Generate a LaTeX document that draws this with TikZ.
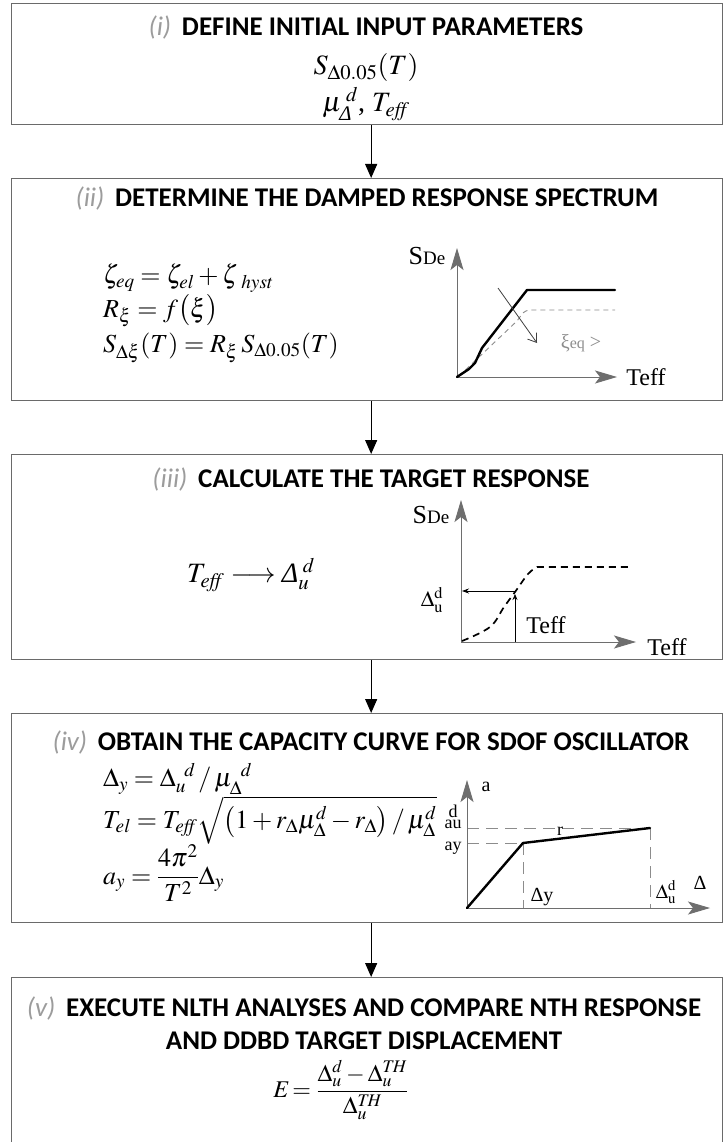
\documentclass[tikz,border=0pt]{standalone}
\usepackage{amsmath}
\usepackage{mathptmx}
\usepackage[no-math]{fontspec}
\setmainfont{Liberation Serif}
\newfontfamily\calfont{Carlito}
\usetikzlibrary{arrows.meta}
\definecolor{numgray}{HTML}{9C9C9C}
\definecolor{boxline}{HTML}{6A6A6A}
\definecolor{axgray}{HTML}{6E6E6E}
\definecolor{dashgray}{HTML}{8C8C8C}
\newcommand\iD{\text{\itshape Δ}}
\newcommand\ttl[2]{{\calfont\color{numgray}\itshape #1}\hspace{0.4em}{\calfont\bfseries #2}}
\newcommand\fs[1]{\fontsize{#1}{#1}\selectfont}
\begin{document}
\begin{tikzpicture}[x=1pt,y=-1pt,
  box/.style={draw=boxline,line width=1.3pt,minimum width=711pt,anchor=north west,inner sep=0pt},
  flow/.style={draw=black,line width=1.1pt,-{Triangle[length=14pt,width=12pt]}},
  ttlnode/.style={font=\fontsize{27}{33}\selectfont,inner sep=0pt,align=center},
  mth/.style={font=\fontsize{28}{34}\selectfont,inner sep=0pt},
  mthl/.style={font=\fontsize{26}{32}\selectfont,inner sep=0pt,anchor=west},
  axis/.style={draw=axgray,line width=0.9pt,-{Stealth[length=22pt,width=13pt,inset=5pt,fill=axgray]}},
  lbl/.style={inner sep=0pt},
  gdash/.style={draw=dashgray,line width=0.9pt,dash pattern=on 12pt off 7pt}
]
\useasboundingbox (0,0) rectangle (725,1142);
\fill[white] (0,0) rectangle (725,1142);

% boxes
\node[box,minimum height=121pt] (b1) at (11,3) {};
\node[box,minimum height=222pt] (b2) at (11,178) {};
\node[box,minimum height=205pt] (b3) at (11,454) {};
\node[box,minimum height=209pt] (b4) at (11,713) {};
\node[box,minimum height=200pt] (b5) at (11,977) {};

% connectors
\draw[flow] ([xshift=4pt]b1.south) -- ([xshift=4pt]b2.north);
\draw[flow] ([xshift=4pt]b2.south) -- ([xshift=4pt]b3.north);
\draw[flow] ([xshift=4pt]b3.south) -- ([xshift=4pt]b4.north);
\draw[flow] ([xshift=4pt]b4.south) -- ([xshift=4pt]b5.north);

% ---- box (i)
\node[ttlnode] (t1) at (366,28) {\ttl{(i)}{DEFINE INITIAL INPUT PARAMETERS}};
\node[mth] (m11) at (366,68) {$S_{\Delta 0.05}(T)$};
\node[mth] (m12) at (366,104) {$\mu_{\iD}^{\;d}$, $T_{\mathit{eff}}$};

% ---- box (ii)
\node[ttlnode] (t2) at (367,198) {\ttl{(ii)}{DETERMINE THE DAMPED RESPONSE SPECTRUM}};
\node[mthl] (m21) at (103,278) {$\zeta_{eq} = \zeta_{el} + \zeta_{\;\,hyst}$};
\node[mthl] (m22) at (103,311) {$R_{\xi} = f\bigl(\xi\bigr)$};
\node[mthl] (m23) at (103,348) {$S_{\Delta\xi}(T) = R_{\xi}\,S_{\Delta 0.05}(T)$};

\coordinate (o2) at (457,377);
\draw[axis] (o2) -- (457,248);
\draw[axis] (o2) -- (617,377);
\draw[gdash,dash pattern=on 5pt off 4pt] (459,376) -- (517,321) [rounded corners=5pt] -- (525,310) -- (615,310);
\draw[line width=2.4pt,line join=round,line cap=round] (457,377) -- (469,369) -- (475,363) -- (482,348) -- (527,290) -- (615,290);
\draw[draw=black!75,line width=0.8pt,-{Straight Barb[length=8pt,width=11pt]}] (498,288) -- (537,343);
\node[lbl,font=\fs{26}] (sde2) at (427,256) {S{\fs{19}De}};
\node[lbl,font=\fs{24}] (teff2) at (646,377) {Teff};
\node[lbl,font=\fs{20},text=dashgray] (xi2) at (581,343) {ξ{\fs{16}eq} >};

% ---- box (iii)
\node[ttlnode] (t3) at (371,479) {\ttl{(iii)}{CALCULATE THE TARGET RESPONSE}};
\node[mth] (m31) at (251,575) {$T_{\mathit{eff}} \longrightarrow \iD_{u}^{\;d}$};

\coordinate (o3) at (461,642);
\draw[axis] (o3) -- (461,500);
\draw[axis] (o3) -- (636,642);
\draw[line width=1.7pt,dash pattern=on 7pt off 5pt] plot[smooth,tension=0.6] coordinates {(462,641) (490,627) (504,607) (515,592) (528,574) (537,567)} -- (631,567);
\draw[line width=0.8pt,-{Stealth[length=6pt,width=5pt]}] (515,642) -- (515,594);
\draw[line width=0.8pt,-{Stealth[length=7pt,width=5pt]}] (515,591) -- (462,591);
\node[lbl,font=\fs{26}] (sde3) at (431,515) {S{\fs{19}De}};
\node[lbl,font=\fs{24}] (teff3) at (667,647) {Teff};
\node[lbl,font=\fs{22}] (du3) at (432,600) {$\mathrm{\Delta}_{\mathrm{u}}^{\mathrm{d}}$};
\node[lbl,font=\fs{24}] (teff3b) at (546,625) {Teff};

% ---- box (iv)
\node[ttlnode] (t4) at (371,742) {\ttl{(iv)}{OBTAIN THE CAPACITY CURVE FOR SDOF OSCILLATOR}};
\node[mthl] (m41) at (103,779) {$\Delta_{y} = \Delta_{u}^{\ \,d} \,/\, \mu_{\Delta}^{\ \,d}$};
\node[mthl] (m42) at (103,820) {$T_{el} = T_{\mathit{eff}}\sqrt{\left(1 + r_{\Delta}\mu_{\Delta}^{d} - r_{\Delta}\right)/\,\mu_{\Delta}^{d}}$};
\node[mthl] (m43) at (103,873) {$a_{y} = \dfrac{4\pi^{2}}{T^{2}}\Delta_{y}$};

\coordinate (o4) at (467,908);
\draw[gdash] (467,843) -- (523,843);
\draw[gdash] (467,828) -- (650,828);
\draw[gdash] (523,843) -- (523,908);
\draw[gdash] (650,828) -- (650,908);
\draw[axis] (o4) -- (467,780);
\draw[axis] (o4) -- (710,908);
\draw[line width=2.4pt,line join=round,line cap=round] (467,908) -- (523,843) -- (650,828);
\node[lbl,font=\fs{20}] (a4) at (486,787) {a};
\node[lbl,font=\fs{18},align=center] (au4) at (453,817) {d\\[-7pt]au};
\node[lbl,font=\fs{18}] (ay4) at (453,848) {ay};
\node[lbl,font=\fs{18}] (r4) at (560,831) {r};
\node[lbl,font=\fs{20}] (dy4) at (542,897) {Δy};
\node[lbl,font=\fs{20}] (du4) at (666,892) {$\mathrm{\Delta}_{\mathrm{u}}^{\mathrm{d}}$};
\node[lbl,font=\fs{20}] (d4) at (700,883) {Δ};

% ---- box (v)
\node[ttlnode] (t5) at (364,1023) {\ttl{(v)}{EXECUTE NLTH ANALYSES AND COMPARE NTH RESPONSE}\\{\calfont\bfseries AND DDBD TARGET DISPLACEMENT}};
\node[mth,font=\fontsize{24}{30}\selectfont] (m51) at (341,1090) {$E\!=\dfrac{\Delta_{u}^{d} - \Delta_{u}^{T\!H}}{\Delta_{u}^{T\!H}}$};
\end{tikzpicture}
\end{document}
